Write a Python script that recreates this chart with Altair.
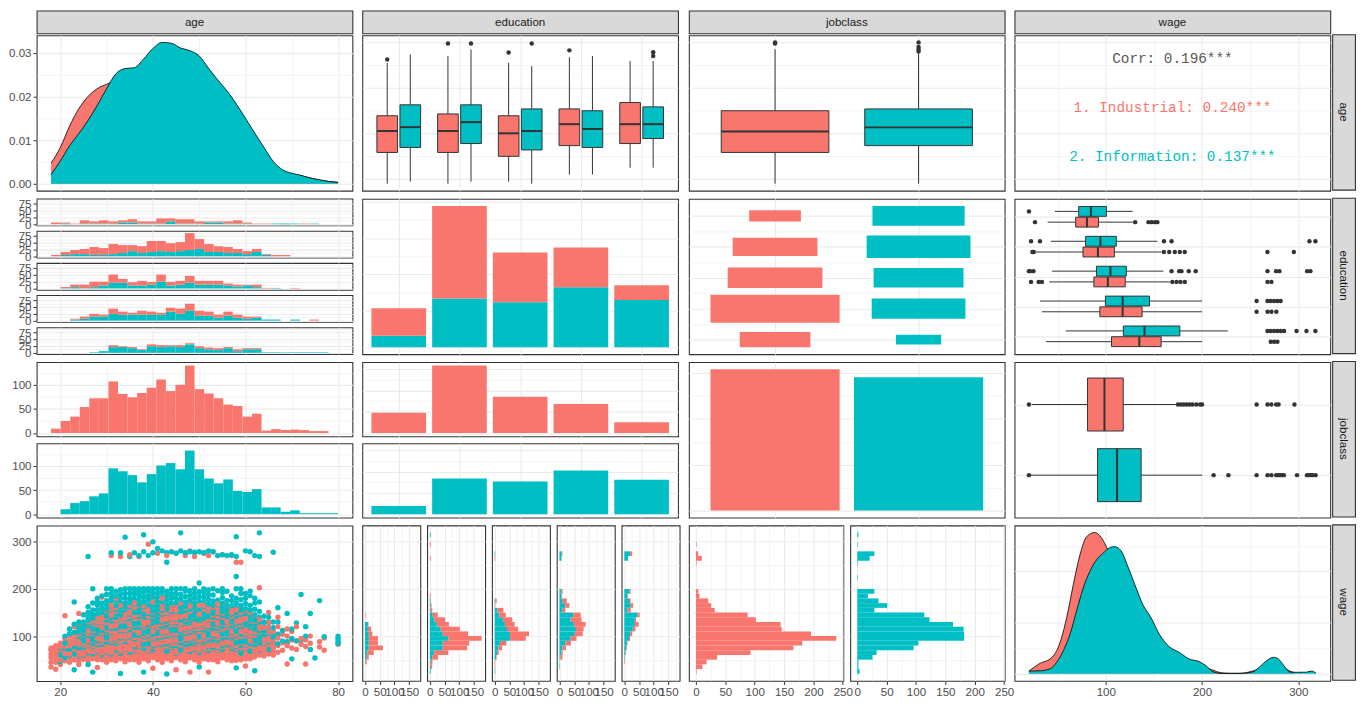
import altair as alt
import pandas as pd

RED = "#F8766D"
TEAL = "#00BFC4"
INK = "#333333"
GRID = "#EBEBEB"
FONT = "Liberation Sans"

CLASSES = ["1. Industrial", "2. Information"]
EDUCATION = ["1. < HS Grad", "2. HS Grad", "3. Some College", "4. College Grad", "5. Advanced Degree"]

# workers per education level, by job class
EDU_IND = [190, 636, 342, 274, 102]
EDU_INF = [78, 335, 308, 411, 324]
JOB_TOTAL = [1544, 1456]

# age density (diagonal), ages 18..80 step 2
DENS_AGES = list(range(18, 81, 2))
DENS_AGE_IND = [0.0047, 0.0083, 0.0132, 0.0172, 0.0200, 0.0218, 0.0228, 0.0236, 0.0240, 0.0250,
                0.0262, 0.0275, 0.0280, 0.0282, 0.0285, 0.0282, 0.0262, 0.0237, 0.0212, 0.0187,
                0.0160, 0.0130, 0.0098, 0.0066, 0.0040, 0.0028, 0.0022, 0.0018, 0.0013, 0.0008,
                0.0005, 0.0003]
DENS_AGE_INF = [0.0021, 0.0052, 0.0087, 0.0115, 0.0145, 0.0180, 0.0218, 0.0252, 0.0264, 0.0266,
                0.0286, 0.0310, 0.0324, 0.0322, 0.0311, 0.0305, 0.0293, 0.0265, 0.0238, 0.0213,
                0.0183, 0.0150, 0.0116, 0.0083, 0.0051, 0.0032, 0.0024, 0.0019, 0.0013, 0.0009,
                0.0005, 0.0003]

# wage density (diagonal)
DENS_WAGE_IND_X = [20.1, 23.2, 31.8, 42.1, 49.0, 54.1, 59.3, 66.2, 73.1, 80.0, 88.5, 97.1, 102.3,
                   110, 120, 130, 140, 150, 160, 170, 180, 190, 200, 210, 220, 230, 240, 250,
                   260, 270, 278, 285, 296]
DENS_WAGE_IND = [0.00026, 0.00048, 0.00103, 0.00145, 0.00226, 0.00355, 0.00548, 0.0087, 0.0116,
                 0.01338, 0.0138, 0.01305, 0.01209, 0.0110, 0.0090, 0.0070, 0.0053, 0.0038, 0.0027,
                 0.0019, 0.0014, 0.0010, 0.0007, 0.0004, 0.0001, 0.00005, 0.00005, 0.0002, 0.0005,
                 0.0010, 0.0012, 0.0006, 0.0001]
DENS_WAGE_INF_X = [20.1, 31.8, 42.1, 49.0, 55.9, 62.8, 69.6, 76.5, 83.4, 90.3, 97.1, 104.0, 109.2,
                   116.0, 122.9, 131.5, 138.4, 147.0, 155.6, 165.9, 176.2, 186.5, 196.8, 203.7,
                   212.3, 220.9, 238.1, 251.8, 260.4, 267.3, 274.2, 279.3, 286.2, 291.4, 300.0,
                   308.6, 313.7, 318.3]
DENS_WAGE_INF = [0.00026, 0.00029, 0.00048, 0.00113, 0.00226, 0.00387, 0.00613, 0.00838, 0.0100,
                 0.01112, 0.01177, 0.01232, 0.01242, 0.01199, 0.01048, 0.00838, 0.00677, 0.00548,
                 0.00387, 0.00265, 0.0021, 0.00145, 0.0012, 0.00081, 0.00016, 0.00003, 0.00003,
                 0.00016, 0.00072, 0.0013, 0.00161, 0.00145, 0.00065, 0.00016, 0.00014, 0.00016,
                 0.00026, 0.00007]

# age histograms: 30 bins from 18 to 80
AGE_BINS = (18, 80, 30)
AGE_HIST_IND = [9, 25, 34, 54, 72, 72, 107, 81, 74, 83, 94, 111, 87, 100, 140, 91, 82, 72, 59, 56,
                34, 40, 5, 8, 6, 7, 6, 4, 4, 0]
AGE_HIST_INF = [0, 10, 23, 27, 37, 43, 95, 89, 81, 66, 83, 101, 106, 93, 132, 93, 74, 64, 72, 48,
                46, 52, 14, 14, 5, 8, 2, 2, 2, 2]
AGE_HIST_EDU_IND = [
    [6, 4, 2, 12, 8, 12, 8, 8, 12, 8, 8, 19, 11, 16, 16, 8, 4, 4, 8, 12, 4, 2, 2, 0, 0, 0, 2, 0, 0, 0],
    [5, 11, 15, 19, 29, 25, 37, 29, 22, 25, 40, 37, 32, 33, 62, 36, 29, 21, 22, 15, 11, 11, 3, 5, 5, 0, 0, 0, 0, 0],
    [0, 4, 9, 13, 20, 14, 30, 14, 12, 17, 10, 26, 13, 14, 25, 14, 14, 14, 7, 7, 3, 9, 2, 0, 0, 2, 0, 0, 0, 0],
    [0, 0, 3, 8, 10, 7, 19, 11, 7, 14, 11, 7, 14, 19, 26, 18, 15, 11, 15, 11, 8, 4, 0, 0, 0, 0, 0, 4, 0, 0],
    [0, 0, 0, 0, 0, 0, 7, 3, 4, 3, 7, 7, 4, 7, 4, 7, 6, 7, 4, 7, 4, 4, 0, 0, 0, 0, 0, 0, 0, 0],
]
AGE_HIST_EDU_INF = [
    [0, 2, 0, 2, 2, 2, 2, 6, 6, 2, 2, 2, 10, 2, 2, 2, 6, 6, 2, 2, 2, 0, 0, 2, 2, 2, 0, 2, 0, 0],
    [0, 5, 8, 8, 5, 5, 8, 12, 19, 12, 16, 19, 16, 19, 23, 27, 16, 16, 12, 12, 8, 16, 5, 0, 0, 0, 0, 0, 0, 0],
    [0, 1, 5, 1, 5, 11, 21, 21, 11, 11, 14, 25, 11, 14, 21, 14, 14, 14, 11, 7, 11, 5, 0, 2, 0, 0, 0, 0, 0, 0],
    [0, 0, 4, 7, 15, 15, 25, 22, 22, 22, 22, 22, 33, 25, 36, 18, 18, 11, 18, 11, 7, 11, 4, 4, 0, 4, 0, 0, 0, 0],
    [0, 0, 0, 0, 2, 6, 21, 21, 17, 10, 24, 21, 24, 21, 31, 17, 13, 10, 17, 6, 13, 13, 2, 2, 2, 2, 2, 2, 2, 0],
]

# wage histograms: 30 bins from 20.09 to 318.34
WAGE_BINS = (20.09, 318.34, 30)
WAGE_HIST_IND = [1, 11, 18, 36, 93, 166, 181, 239, 196, 146, 144, 102, 88, 32, 26, 21, 6, 4, 0, 0,
                 0, 0, 0, 1, 10, 4, 0, 1, 0, 0]
WAGE_HIST_INF = [4, 2, 2, 26, 33, 96, 104, 182, 182, 181, 163, 123, 114, 29, 51, 36, 18, 29, 0, 0,
                 1, 0, 0, 1, 21, 29, 0, 1, 0, 2]
WAGE_HIST_EDU_IND = [
    [0, 0, 4, 7, 22, 48, 31, 31, 12, 11, 2, 0, 2, 0, 0, 0, 0, 0, 0, 0, 0, 0, 0, 0, 0, 0, 0, 0, 0, 0],
    [0, 5, 6, 20, 48, 83, 90, 113, 86, 65, 41, 37, 17, 5, 3, 0, 3, 0, 0, 0, 0, 0, 0, 0, 3, 0, 0, 3, 0, 0],
    [0, 2, 2, 2, 6, 12, 22, 54, 65, 38, 33, 32, 22, 21, 1, 5, 0, 0, 0, 0, 0, 0, 0, 0, 2, 0, 0, 0, 0, 0],
    [0, 0, 0, 7, 4, 11, 19, 20, 27, 26, 40, 37, 25, 9, 14, 14, 2, 4, 0, 0, 0, 0, 0, 0, 0, 2, 0, 0, 0, 0],
    [0, 0, 2, 0, 2, 2, 2, 4, 7, 9, 13, 4, 7, 11, 8, 6, 2, 4, 0, 0, 0, 0, 0, 0, 0, 7, 0, 0, 0, 0],
]
WAGE_HIST_EDU_INF = [
    [0, 0, 2, 6, 8, 13, 13, 13, 13, 10, 10, 0, 0, 0, 0, 0, 0, 0, 0, 0, 0, 0, 0, 0, 0, 0, 0, 0, 0, 0],
    [3, 3, 3, 8, 15, 44, 44, 63, 44, 37, 24, 15, 10, 3, 3, 3, 0, 0, 0, 0, 0, 0, 0, 0, 0, 0, 0, 0, 0, 3],
    [2, 0, 0, 5, 8, 13, 18, 52, 52, 42, 35, 28, 16, 9, 1, 2, 0, 0, 0, 0, 0, 0, 0, 0, 0, 2, 0, 0, 0, 0],
    [0, 2, 1, 3, 7, 11, 20, 38, 52, 56, 49, 38, 47, 11, 20, 11, 7, 7, 0, 0, 0, 0, 0, 0, 7, 8, 0, 0, 0, 0],
    [0, 0, 0, 2, 4, 7, 9, 16, 20, 29, 36, 36, 45, 11, 22, 16, 11, 18, 0, 0, 0, 0, 0, 0, 13, 20, 0, 0, 0, 0],
]

# boxplot statistics: (lower whisker, Q1, median, Q3, upper whisker, outliers)
AGE_BOX_EDU_IND = [(18, 31.7, 41.1, 47.8, 71.0, [72.5]), (18, 31.7, 41.1, 48.6, 74.0, [79.5]),
                   (18.9, 30.0, 40.1, 47.8, 71.0, [75.6]), (22, 34.7, 44.1, 50.8, 73.5, [76.5]),
                   (25, 35.6, 44.1, 53.6, 71.8, [])]
AGE_BOX_EDU_INF = [(18.9, 33.9, 42.8, 52.6, 74.7, []), (18.9, 35.6, 45.0, 52.6, 76.9, [79.5]),
                   (18, 32.8, 41.1, 50.8, 69.6, [79.5]), (22, 33.9, 42.0, 50.0, 74.0, []),
                   (25, 37.8, 44.1, 51.7, 71.8, [74, 75.7])]
AGE_BOX_JOB = [(18, 31.7, 40.9, 50.0, 77, [79.5, 80]), (18, 34.7, 42.7, 50.8, 75, [76, 77, 78, 80])]
WAGE_BOX_EDU_IND = [
    (39.5, 68.7, 80.4, 92.4, 128.0, [26.4, 130.5, 144.3, 147.7, 151.1, 153.6]),
    (27.4, 76.3, 91.8, 108.9, 158.0, [23.7, 25.1, 160.4, 165.9, 171.7, 176.9, 182.0, 268.0, 295.4]),
    (41.3, 87.6, 102.1, 120.2, 166.6, [22.3, 30.2, 33.6, 169.1, 173.5, 177.6, 182.1, 268.0, 272.1]),
    (33.6, 93.8, 117.5, 137.7, 200.0, [256.7, 268.0, 272.1, 277.2]),
    (37.9, 105.9, 134.8, 157.5, 200.0, [271.4, 274.9, 278.3]),
]
WAGE_BOX_EDU_INF = [
    (47.0, 71.8, 84.5, 100.6, 127.8, [20.1]),
    (42.9, 79.0, 94.4, 110.9, 153.6, [22.3, 31.6, 160.4, 168.3, 311.6, 317.8]),
    (44.0, 90.3, 104.8, 121.3, 159.8, [20.1, 21.4, 24.8, 168.3, 176.2, 178.6, 186.2, 193.4, 268.0,
                                       276.9, 280.4, 309.2, 312.6]),
    (31.6, 99.6, 117.5, 145.4, 200.0, [256.7, 268.0, 271.4, 274.9, 278.3, 281.7]),
    (58.4, 118.2, 140.2, 176.9, 226.8, [268.0, 271.4, 274.9, 278.3, 281.7, 285.2, 298.2, 308.5, 317.8]),
]
WAGE_BOX_JOB = [
    (23.0, 81.0, 98.6, 118.1, 173.5, [20.1, 175, 178, 181, 184, 187, 190, 194, 198, 200, 256.7,
                                      268, 272, 277, 279.5, 296]),
    (21.0, 91.4, 111.7, 136.7, 200.0, [20.1, 212, 227.4, 256.7, 268, 272, 277, 279, 281, 283, 285,
                                       298.7, 309, 311, 313, 315, 318]),
]

# scatter of wage against age: age -> wages
SCATTER_IND = {
    18: [35, 45, 55, 62, 70, 75], 19: [30, 45, 52, 60, 68, 75, 80], 20: [40, 50, 58, 65, 72, 78, 85],
    21: [48, 55, 63, 70, 78, 88, 95, 143], 22: [45, 55, 62, 70, 80, 90, 100],
    23: [50, 60, 68, 75, 85, 95, 105, 120], 24: [40, 55, 65, 72, 82, 92, 104, 115, 128, 148],
    25: [55, 62, 70, 80, 90, 98, 110, 125], 26: [48, 58, 68, 76, 85, 95, 105, 118, 130],
    27: [52, 62, 72, 80, 90, 100, 112, 125, 140], 28: [34, 55, 65, 75, 85, 95, 105, 118, 130, 145],
    29: [50, 60, 70, 82, 92, 102, 112, 124, 136, 150, 182],
    30: [45, 58, 68, 78, 88, 98, 108, 118, 128, 140, 155],
    31: [55, 65, 75, 85, 95, 105, 115, 125, 138, 150, 165, 270],
    32: [48, 60, 70, 80, 90, 100, 110, 122, 134, 146, 160, 180],
    33: [52, 62, 74, 84, 94, 104, 114, 126, 138, 152, 268],
    34: [46, 58, 68, 78, 88, 98, 108, 120, 132, 145, 160],
    35: [55, 66, 76, 86, 96, 106, 118, 130, 142, 156, 175, 272],
    36: [50, 62, 72, 82, 92, 102, 112, 124, 136, 150, 170],
    37: [45, 58, 70, 80, 90, 100, 112, 124, 138, 155, 268],
    38: [52, 64, 74, 86, 96, 106, 118, 130, 145, 165],
    39: [48, 60, 72, 82, 94, 104, 116, 128, 142, 160, 294],
    40: [32, 55, 66, 78, 88, 98, 110, 122, 135, 150, 172],
    41: [50, 62, 74, 84, 96, 106, 118, 130, 146, 162, 275],
    42: [45, 58, 70, 80, 92, 102, 114, 126, 140, 158, 180],
    43: [52, 64, 76, 88, 98, 110, 122, 136, 150, 270],
    44: [48, 60, 72, 84, 94, 106, 118, 130, 145, 165, 185],
    45: [29, 55, 66, 78, 90, 100, 112, 124, 138, 155, 275],
    46: [50, 62, 74, 86, 96, 108, 120, 134, 148, 170],
    47: [46, 58, 70, 82, 94, 104, 116, 128, 142, 160, 270],
    48: [24, 54, 66, 78, 90, 100, 112, 124, 138, 152, 175, 280],
    49: [50, 62, 74, 86, 98, 110, 122, 136, 150, 268],
    50: [45, 58, 70, 82, 92, 104, 116, 130, 146, 165],
    51: [52, 64, 76, 88, 100, 112, 124, 138, 155, 275],
    52: [24, 56, 68, 80, 92, 104, 116, 128, 142, 160, 270],
    53: [50, 62, 74, 86, 98, 110, 122, 136, 152, 278],
    54: [46, 60, 72, 84, 96, 108, 120, 134, 150, 168],
    55: [54, 66, 78, 90, 102, 114, 126, 140, 158, 272],
    56: [50, 62, 74, 86, 98, 110, 124, 138, 155],
    57: [48, 60, 72, 84, 96, 108, 120, 135, 150, 270],
    58: [55, 68, 80, 92, 104, 116, 130, 148, 256], 59: [50, 62, 74, 86, 98, 110, 124, 140, 160, 256],
    60: [37, 58, 70, 82, 94, 106, 120, 136, 155], 61: [52, 66, 78, 90, 102, 116, 132, 150],
    62: [56, 70, 82, 94, 108, 122, 140], 63: [60, 72, 86, 100, 116, 135, 202],
    64: [58, 72, 86, 100, 118], 65: [62, 76, 90, 108, 130, 150], 66: [60, 74, 90, 110],
    67: [66, 80, 96, 120, 140], 68: [70, 86, 104], 69: [41, 80, 85, 100, 115], 70: [75, 92, 110],
    71: [72, 90, 120], 72: [83, 95], 73: [41, 78, 92], 74: [85, 100], 76: [77, 88], 77: [70, 96],
    80: [83],
}
SCATTER_IND_MORE = {
    24: [47, 60, 69, 87, 98], 25: [51, 66, 75, 85, 94, 104, 117], 26: [53, 63, 72, 81, 90, 100, 111, 124],
    27: [57, 67, 76, 85, 95, 106, 118, 132], 28: [50, 60, 70, 80, 90, 100, 111, 124, 137],
    29: [55, 65, 76, 87, 97, 107, 118, 130, 143], 30: [52, 63, 73, 83, 93, 103, 113, 123, 134, 147],
    31: [50, 60, 70, 80, 90, 100, 110, 120, 131, 144, 158], 32: [54, 65, 75, 85, 95, 105, 116, 128, 140, 153],
    33: [57, 68, 79, 89, 99, 109, 120, 132, 145, 165], 34: [52, 63, 73, 83, 93, 103, 114, 126, 138, 152],
    35: [50, 60, 71, 81, 91, 101, 112, 124, 136, 149, 165], 36: [56, 67, 77, 87, 97, 107, 118, 130, 143, 160],
    37: [52, 64, 75, 85, 95, 106, 118, 131, 146, 165], 38: [58, 69, 80, 91, 101, 112, 124, 137, 155],
    39: [54, 66, 77, 88, 99, 110, 122, 135, 151], 40: [60, 72, 83, 93, 104, 116, 128, 142, 160],
    41: [56, 68, 79, 90, 101, 112, 124, 138, 154], 42: [52, 64, 75, 86, 97, 108, 120, 133, 149, 168],
    43: [58, 70, 82, 93, 104, 116, 129, 143, 160], 44: [54, 66, 78, 89, 100, 112, 124, 137, 155],
    45: [60, 72, 84, 95, 106, 118, 131, 146, 165], 46: [56, 68, 80, 91, 102, 114, 127, 141, 159],
    47: [52, 64, 76, 88, 99, 110, 122, 135, 151], 48: [60, 72, 84, 95, 106, 118, 131, 145, 163],
    49: [56, 68, 80, 92, 104, 116, 129, 143, 160], 50: [52, 64, 76, 87, 98, 110, 123, 138, 155],
    51: [58, 70, 82, 94, 106, 118, 131, 146, 165], 52: [50, 62, 74, 86, 98, 110, 122, 135, 151],
    53: [56, 68, 80, 92, 104, 116, 129, 144, 162], 54: [53, 66, 78, 90, 102, 114, 127, 142, 159],
    55: [60, 72, 84, 96, 108, 120, 133, 149], 56: [56, 68, 80, 92, 104, 117, 131, 146, 165],
    57: [54, 66, 78, 90, 102, 114, 127, 142, 160], 58: [49, 62, 74, 86, 98, 110, 123, 139, 156],
    59: [56, 68, 80, 92, 104, 117, 132, 150], 60: [52, 64, 76, 88, 100, 113, 128, 145],
    61: [58, 72, 84, 96, 109, 124, 141], 62: [63, 76, 88, 101, 115, 131], 63: [66, 79, 93, 108, 125],
    64: [65, 79, 93, 109], 65: [69, 83, 99, 119], 66: [67, 82, 100],
}
SCATTER_INF = {
    20: [46, 60, 75], 21: [55, 70, 85, 100], 22: [60, 72, 88, 105, 115],
    23: [29, 62, 78, 92, 108, 125, 172], 24: [58, 72, 86, 100, 115, 130],
    25: [60, 75, 90, 105, 120, 130], 26: [40, 65, 80, 95, 110, 125, 140, 162, 268],
    27: [24, 62, 78, 92, 108, 122, 138, 155, 200], 28: [68, 82, 98, 112, 128, 145, 165, 180],
    29: [60, 75, 90, 105, 120, 135, 150, 170], 30: [66, 80, 96, 110, 126, 142, 158, 175, 200],
    31: [62, 78, 94, 108, 124, 140, 156, 172, 190, 276],
    32: [70, 85, 100, 116, 132, 148, 165, 185],
    33: [21, 64, 80, 96, 112, 128, 145, 162, 180, 198, 276],
    34: [72, 88, 104, 120, 136, 152, 170, 190, 309],
    35: [66, 82, 98, 114, 130, 146, 162, 180, 200, 268],
    36: [70, 86, 102, 118, 134, 150, 168, 188, 200, 276],
    37: [62, 78, 94, 110, 126, 142, 158, 176, 195, 270],
    38: [24, 74, 90, 106, 122, 138, 154, 172, 192, 314, 278],
    39: [68, 84, 100, 116, 132, 148, 166, 185, 200, 270],
    40: [72, 88, 104, 120, 136, 152, 170, 190, 299, 276],
    41: [66, 82, 98, 114, 130, 146, 164, 182, 200, 285],
    42: [74, 90, 106, 122, 138, 154, 172, 192, 280],
    43: [20, 68, 84, 100, 116, 132, 148, 166, 186, 256, 276],
    44: [72, 88, 104, 120, 136, 152, 170, 190, 200, 278],
    45: [64, 80, 96, 112, 128, 144, 162, 180, 275],
    46: [70, 86, 102, 118, 134, 150, 168, 188, 318, 280],
    47: [74, 90, 106, 122, 138, 154, 172, 195, 276],
    48: [68, 84, 100, 116, 132, 148, 166, 186, 278],
    49: [72, 88, 104, 120, 136, 152, 170, 190, 277],
    50: [35, 66, 82, 98, 114, 130, 146, 164, 184, 212, 278],
    51: [74, 90, 106, 122, 138, 154, 172, 192, 276],
    52: [70, 86, 102, 118, 134, 150, 168, 188, 280],
    53: [76, 92, 108, 124, 140, 156, 174, 200, 278],
    54: [68, 84, 100, 116, 132, 148, 166, 270],
    55: [72, 88, 104, 120, 136, 152, 170, 192, 272],
    56: [66, 82, 98, 114, 130, 146, 165, 270],
    57: [74, 90, 106, 122, 138, 155, 175, 272],
    58: [33, 70, 86, 102, 118, 134, 150, 170, 226, 310, 268],
    59: [64, 80, 96, 112, 128, 146, 165, 190], 60: [72, 88, 104, 120, 138, 158, 180, 280],
    61: [68, 84, 100, 116, 134, 155, 195, 278], 62: [27, 74, 90, 106, 124, 145, 170, 270],
    63: [70, 86, 102, 120, 140, 172, 318, 268], 64: [76, 92, 110, 130], 65: [72, 88, 106, 128],
    66: [80, 98, 118, 277], 67: [84, 104, 130, 160], 68: [90, 112], 69: [88, 148],
    70: [52, 95, 115], 71: [90, 128], 72: [92, 188], 73: [100, 120], 74: [72, 148], 75: [54],
    76: [175], 77: [99], 80: [85, 90, 95, 100],
}
SCATTER_INF_MORE = {
    24: [79, 93, 108, 122], 25: [83, 98, 112, 125, 145], 26: [72, 88, 102, 118, 133, 150],
    27: [85, 100, 115, 130, 146, 170], 28: [75, 90, 105, 120, 136, 155, 172],
    29: [83, 98, 112, 128, 142, 160, 185], 30: [88, 103, 118, 134, 150, 166, 188],
    31: [86, 101, 116, 132, 148, 164, 181, 200], 32: [78, 93, 108, 124, 140, 157, 175, 195],
    33: [88, 104, 120, 136, 153, 171, 189], 34: [80, 96, 112, 128, 144, 161, 180, 200],
    35: [90, 106, 122, 138, 154, 171, 190], 36: [78, 94, 110, 126, 142, 159, 178, 195],
    37: [86, 102, 118, 134, 150, 167, 186, 200], 38: [82, 98, 114, 130, 146, 163, 182, 200],
    39: [76, 92, 108, 124, 140, 157, 176, 195], 40: [80, 96, 112, 128, 144, 161, 180, 200],
    41: [90, 106, 122, 138, 155, 173, 191], 42: [82, 98, 114, 130, 146, 163, 182, 200],
    43: [92, 108, 124, 140, 157, 176, 195], 44: [80, 96, 112, 128, 144, 161, 180],
    45: [88, 104, 120, 136, 153, 171, 190, 200], 46: [78, 94, 110, 126, 142, 159, 178, 200],
    47: [82, 98, 114, 130, 146, 163, 183, 200], 48: [92, 108, 124, 140, 157, 176, 196],
    49: [80, 96, 112, 128, 144, 161, 180, 200], 50: [90, 106, 122, 138, 155, 174, 194],
    51: [82, 98, 114, 130, 146, 163, 182, 200], 52: [78, 94, 110, 126, 142, 159, 178, 198],
    53: [84, 100, 116, 132, 148, 165, 187], 54: [76, 92, 108, 124, 140, 157, 176, 196],
    55: [80, 96, 112, 128, 144, 161, 181, 200], 56: [90, 106, 122, 138, 155, 175, 195],
    57: [82, 98, 114, 130, 146, 164, 185], 58: [78, 94, 110, 126, 142, 160, 180, 200],
    59: [88, 104, 120, 137, 155, 177, 200], 60: [80, 96, 112, 129, 148, 169, 190],
    61: [92, 108, 125, 144, 165, 185], 62: [82, 98, 115, 134, 157, 180], 63: [94, 111, 130, 152],
    64: [84, 101, 120, 142], 65: [97, 117, 140], 66: [89, 108, 130],
}

CORR_LINES = ["Corr: 0.196***", "1. Industrial: 0.240***", "2. Information: 0.137***"]
CORR_COLORS = ["#595959", RED, TEAL]

# ---------------- layout ----------------
W, H, GAP, STRIP = 319, 157, 7, 23
AGE_DOM = [14.9, 83.1]
WAGE_DOM = [5.18, 333.25]
AGE_GRID, AGE_MAJOR = [20, 30, 40, 50, 60, 70, 80], [20, 40, 60, 80]
WAGE_GRID, WAGE_MAJOR = [50, 100, 150, 200, 250, 300], [100, 200, 300]

COLOR = alt.Color("cls:N", scale=alt.Scale(domain=CLASSES, range=[RED, TEAL]), legend=None)


def axis(grid, major, show=False, fmt=None):
    test = "indexof([%s], datum.value) >= 0" % ",".join(str(v) for v in major)
    kw = dict(values=grid, title=None, domain=False, grid=True, gridColor=GRID,
              gridWidth={"condition": {"test": test, "value": 1.1}, "value": 0.55},
              labelOverlap=False, labelFlush=False)
    if show:
        kw["labelExpr"] = "%s ? datum.label : ''" % test
        kw["tickOpacity"] = {"condition": {"test": test, "value": 1}, "value": 0}
        if fmt:
            kw["format"] = fmt
    else:
        kw["labels"] = False
        kw["ticks"] = False
    return alt.Axis(**kw)


def sc(dom, rev=False):
    if rev:
        return alt.Scale(domain=dom, nice=False, zero=False, reverse=True)
    return alt.Scale(domain=dom, nice=False, zero=False)


def X(f, s, a):
    return alt.X(f, type="quantitative", scale=s, axis=a)


def Y(f, s, a):
    return alt.Y(f, type="quantitative", scale=s, axis=a)


def edges(lo, hi, n):
    return [lo + i * (hi - lo) / n for i in range(n + 1)]


def stack_frame(ind, inf, lows, highs):
    rows = []
    for i, (a, b) in enumerate(zip(ind, inf)):
        if b:
            rows.append(dict(lo=lows[i], hi=highs[i], b0=0, b1=b, cls=CLASSES[1]))
        if a:
            rows.append(dict(lo=lows[i], hi=highs[i], b0=b, b1=a + b, cls=CLASSES[0]))
    return pd.DataFrame(rows)


def rects(df, xs, xa, ys, ya, w, h, horizontal=False):
    if horizontal:
        enc = dict(y=Y("lo", ys, ya), y2="hi", x=X("b0", xs, xa), x2="b1")
    else:
        enc = dict(x=X("lo", xs, xa), x2="hi", y=Y("b0", ys, ya), y2="b1")
    return alt.Chart(df).mark_rect().encode(color=COLOR, **enc).properties(width=w, height=h)


def box_panel(keys, stats, half, vertical, cs, ca, vs, va, w, h):
    srows, orows = [], []
    for (pos, cls), (lo, q1, med, q3, hi, outs) in zip(keys, stats):
        srows.append(dict(pos=pos, p0=pos - half, p1=pos + half, lo=lo, q1=q1, med=med,
                          q3=q3, hi=hi, cls=cls))
        for o in outs:
            orows.append(dict(pos=pos, val=o))
    st, ou = pd.DataFrame(srows), pd.DataFrame(orows)
    c, v = ("x", "y") if vertical else ("y", "x")
    C = X if vertical else Y
    V = Y if vertical else X
    base = alt.Chart(st)
    w_lo = base.mark_rule(color=INK, strokeWidth=1).encode(
        **{c: C("pos", cs, ca), v: V("lo", vs, va), v + "2": "q1"})
    w_hi = base.mark_rule(color=INK, strokeWidth=1).encode(
        **{c: C("pos", cs, ca), v: V("q3", vs, va), v + "2": "hi"})
    box = base.mark_rect(stroke=INK, strokeWidth=1).encode(
        **{c: C("p0", cs, ca), c + "2": "p1", v: V("q1", vs, va), v + "2": "q3", "color": COLOR})
    med = base.mark_rule(color=INK, strokeWidth=2).encode(
        **{c: C("p0", cs, ca), c + "2": "p1", v: V("med", vs, va)})
    pts = alt.Chart(ou).mark_circle(color=INK, size=20, opacity=1).encode(
        **{c: C("pos", cs, ca), v: V("val", vs, va)})
    return alt.layer(w_lo, w_hi, box, med, pts).properties(width=w, height=h)


def density_panel(xs_ind, d_ind, xs_inf, d_inf, xsc, xax, ysc, yax, w, h):
    layers = []
    for xv, dv, col in ((xs_ind, d_ind, RED), (xs_inf, d_inf, TEAL)):
        df = pd.DataFrame({"v": xv, "d": dv})
        b = alt.Chart(df)
        layers.append(b.mark_area(color=col, interpolate="monotone", opacity=1).encode(
            x=X("v", xsc, xax), y=Y("d", ysc, yax), y2=alt.datum(0)))
        layers.append(b.mark_line(color="black", strokeWidth=0.8, interpolate="monotone").encode(
            x=X("v", xsc, xax), y=Y("d", ysc, yax)))
    return alt.layer(*layers).properties(width=w, height=h)


def strip(label, w, h, vertical=False):
    df = pd.DataFrame({"t": [label]})
    return (alt.Chart(df)
            .mark_text(font=FONT, fontSize=11.7, color="#1A1A1A", angle=90 if vertical else 0,
                       baseline="middle", align="center")
            .encode(text="t:N", x=alt.value(w / 2), y=alt.value(h / 2))
            .properties(width=w, height=h,
                        view=alt.ViewBackground(fill="#D9D9D9", stroke=INK, strokeWidth=1.1)))


def blank(w, h):
    df = pd.DataFrame({"t": [" "]})
    return (alt.Chart(df).mark_text(fontSize=1, baseline="middle")
            .encode(text="t:N", x=alt.value(w / 2), y=alt.value(h / 2))
            .properties(width=w, height=h, view=alt.ViewBackground(strokeWidth=0)))


age_e = edges(*AGE_BINS)
wage_e = edges(*WAGE_BINS)
zeros = [0] * 30

age_s, wage_s = sc(AGE_DOM), sc(WAGE_DOM)
age_ax, wage_ax = axis(AGE_GRID, AGE_MAJOR), axis(WAGE_GRID, WAGE_MAJOR)
age_ax_lab = axis(AGE_GRID, AGE_MAJOR, show=True)
wage_ax_lab = axis(WAGE_GRID, WAGE_MAJOR, show=True)
edu_s, edu_ax = sc([0.4, 5.6]), axis([1, 2, 3, 4, 5], [1, 2, 3, 4, 5])
job_s, job_ax = sc([0.4, 2.6]), axis([1, 2], [1, 2])

# ---- row 1 ----
p11 = density_panel(DENS_AGES, DENS_AGE_IND, DENS_AGES, DENS_AGE_INF, age_s, age_ax,
                    sc([-0.00162, 0.03402]),
                    axis([0, 0.005, 0.01, 0.015, 0.02, 0.025, 0.03], [0, 0.01, 0.02, 0.03],
                         show=True, fmt=".2f"), W, H)

keys, stats = [], []
for i in range(5):
    keys += [(i + 1 - 0.19, CLASSES[0]), (i + 1 + 0.19, CLASSES[1])]
    stats += [AGE_BOX_EDU_IND[i], AGE_BOX_EDU_INF[i]]
p12 = box_panel(keys, stats, 0.17, True, edu_s, edu_ax, age_s, age_ax, W, H)

p13 = box_panel([(1, CLASSES[0]), (2, CLASSES[1])], AGE_BOX_JOB, 0.375, True,
                job_s, job_ax, age_s, age_ax, W, H)

corr_df = pd.DataFrame({"label": CORR_LINES, "c": CORR_COLORS,
                        "x": [sum(WAGE_DOM) / 2] * 3,
                        "y": [AGE_DOM[0] + f * (AGE_DOM[1] - AGE_DOM[0]) for f in (0.848, 0.535, 0.217)]})
p14 = (alt.Chart(corr_df).mark_text(font="Liberation Mono", fontSize=14.5, baseline="middle")
       .encode(x=X("x", wage_s, wage_ax), y=Y("y", age_s, age_ax), text="label:N",
               color=alt.Color("c:N", scale=None))
       .properties(width=W, height=H))

# ---- row 2 ----
sub_h, sub_gap = 27, 5.5
cnt_s = sc([-4.45, 93.45])
cnt_ax = axis([0, 12.5, 25, 37.5, 50, 62.5, 75, 87.5], [0, 25, 50, 75], show=True)
p21 = alt.vconcat(*[
    rects(stack_frame(AGE_HIST_EDU_IND[i], AGE_HIST_EDU_INF[i], age_e[:-1], age_e[1:]),
          age_s, age_ax, cnt_s, cnt_ax, W, sub_h)
    for i in range(5)], spacing=sub_gap, bounds="flush")

lows = [i + 1 - 0.45 for i in range(5)]
highs = [i + 1 + 0.45 for i in range(5)]
p22 = rects(stack_frame(EDU_IND, EDU_INF, lows, highs), edu_s, edu_ax, sc([-48.55, 1019.55]),
            axis(list(range(0, 1001, 125)), [0, 250, 500, 750, 1000]), W, H)

fl = []
big = max(EDU_IND + EDU_INF)
for j, counts in enumerate((EDU_IND, EDU_INF)):
    for i, n in enumerate(counts):
        r = 0.45 * (n / big) ** 0.5
        fl.append(dict(x0=j + 1 - r, x1=j + 1 + r, y0=i + 1 - r, y1=i + 1 + r, cls=CLASSES[j]))
p23 = (alt.Chart(pd.DataFrame(fl)).mark_rect()
       .encode(x=X("x0", job_s, job_ax), x2="x1",
               y=Y("y0", sc([0.53, 5.55]), axis([1, 1.5, 2, 2.5, 3, 3.5, 4, 4.5, 5, 5.5], [1, 2, 3, 4, 5])),
               y2="y1", color=COLOR)
       .properties(width=W, height=H))

keys, stats = [], []
for i in range(5):
    keys += [(i + 1 + 0.18, CLASSES[0]), (i + 1 - 0.18, CLASSES[1])]
    stats += [WAGE_BOX_EDU_IND[i], WAGE_BOX_EDU_INF[i]]
p24 = box_panel(keys, stats, 0.165, False, sc([0.4, 5.6], rev=True), edu_ax,
                wage_s, wage_ax, W, H)

# ---- row 3 ----
half_h = (H - GAP) / 2
c3_s = sc([-7, 147])
c3_ax = axis([0, 25, 50, 75, 100, 125], [0, 50, 100], show=True)
p31 = alt.vconcat(
    rects(stack_frame(AGE_HIST_IND, zeros, age_e[:-1], age_e[1:]), age_s, age_ax, c3_s, c3_ax, W, half_h),
    rects(stack_frame(zeros, AGE_HIST_INF, age_e[:-1], age_e[1:]), age_s, age_ax, c3_s, c3_ax, W, half_h),
    spacing=GAP, bounds="flush")

e3_s = sc([-31.8, 667.8])
e3_ax = axis([0, 100, 200, 300, 400, 500, 600], [0, 200, 400, 600])
p32 = alt.vconcat(
    rects(stack_frame(EDU_IND, [0] * 5, lows, highs), edu_s, edu_ax, e3_s, e3_ax, W, half_h),
    rects(stack_frame([0] * 5, EDU_INF, lows, highs), edu_s, edu_ax, e3_s, e3_ax, W, half_h),
    spacing=GAP, bounds="flush")

p33 = rects(stack_frame([JOB_TOTAL[0], 0], [0, JOB_TOTAL[1]], [0.55, 1.55], [1.45, 2.45]),
            job_s, job_ax, sc([-77.2, 1621.2]),
            axis([0, 250, 500, 750, 1000, 1250, 1500], [0, 500, 1000, 1500]), W, H)

p34 = box_panel([(1, CLASSES[0]), (2, CLASSES[1])], WAGE_BOX_JOB, 0.375, False,
                sc([0.4, 2.6], rev=True), job_ax, wage_s, wage_ax, W, H)

# ---- row 4 ----
scat = []
for age in sorted(set(SCATTER_IND) | set(SCATTER_INF)):
    for w in SCATTER_IND.get(age, []) + SCATTER_IND_MORE.get(age, []):
        scat.append(dict(age=age, wage=w, cls=CLASSES[0]))
    for w in SCATTER_INF.get(age, []) + SCATTER_INF_MORE.get(age, []):
        scat.append(dict(age=age, wage=w, cls=CLASSES[1]))
# the rows of the data come in no particular order, so neither class is always drawn on top
scat.sort(key=lambda r: (r["age"] * 7919 + r["wage"] * 104729 + len(r["cls"]) * 31) % 997)
p41 = (alt.Chart(pd.DataFrame(scat)).mark_circle(size=30, opacity=1)
       .encode(x=X("age", age_s, age_ax_lab), y=Y("wage", wage_s, wage_ax_lab), color=COLOR)
       .properties(width=W, height=H))

sub_w, sub_wgap = 58.6, 6.5
h2_s = sc([-8.95, 187.95])
h2_ax = axis([0, 25, 50, 75, 100, 125, 150, 175], [0, 50, 100, 150], show=True)
p42 = alt.hconcat(*[
    rects(stack_frame(WAGE_HIST_EDU_IND[i], WAGE_HIST_EDU_INF[i], wage_e[:-1], wage_e[1:]),
          h2_s, h2_ax, wage_s, wage_ax, sub_w, H, horizontal=True)
    for i in range(5)], spacing=sub_wgap, bounds="flush")

half_w = (W - GAP) / 2
h3_s = sc([-11.95, 250.95])
h3_ax = axis(list(range(0, 251, 25)), [0, 50, 100, 150, 200, 250], show=True)
p43 = alt.hconcat(
    rects(stack_frame(WAGE_HIST_IND, zeros, wage_e[:-1], wage_e[1:]), h3_s, h3_ax, wage_s, wage_ax,
          half_w, H, horizontal=True),
    rects(stack_frame(zeros, WAGE_HIST_INF, wage_e[:-1], wage_e[1:]), h3_s, h3_ax, wage_s, wage_ax,
          half_w, H, horizontal=True),
    spacing=GAP, bounds="flush")

p44 = density_panel(DENS_WAGE_IND_X, DENS_WAGE_IND, DENS_WAGE_INF_X, DENS_WAGE_INF,
                    wage_s, wage_ax_lab, sc([-0.00069, 0.01449]),
                    axis([0, 0.0025, 0.005, 0.0075, 0.01, 0.0125], [0, 0.005, 0.01]), W, H)


def column(top, panels, gaps):
    # gaps allow for tick labels and borders that hang over the edge of a stacked group
    g = alt.vconcat(top, panels[0], spacing=0)
    for p, s in zip(panels[1:], gaps):
        g = alt.vconcat(g, p, spacing=s)
    return g


ROW_GAP = GAP - 0.8
col1 = column(strip("age", W, STRIP), [p11, p21, p31, p41], [3.0, 0.2, 2.4])
col2 = column(strip("education", W, STRIP), [p12, p22, p32, p42], [ROW_GAP] * 3)
col3 = column(strip("jobclass", W, STRIP), [p13, p23, p33, p43], [ROW_GAP] * 3)
col4 = column(strip("wage", W, STRIP), [p14, p24, p34, p44], [ROW_GAP] * 3)
right = column(blank(STRIP, STRIP), [strip(t, STRIP, H, True) for t in
                                     ["age", "education", "jobclass", "wage"]], [ROW_GAP] * 3)

left3 = alt.hconcat(alt.hconcat(col1, col2, spacing=GAP), col3, spacing=GAP)
chart = (alt.hconcat(left3, alt.hconcat(col4, right, spacing=0), spacing=GAP - 9.15)
         .properties(padding={"left": 0, "top": -2, "right": 2, "bottom": 2})
         .configure_view(stroke=INK, strokeWidth=1.1)
         .configure_axis(labelFont=FONT, labelFontSize=11.7, labelColor="#4D4D4D",
                         tickColor=INK, tickSize=3.7, tickWidth=1, labelPadding=2))

chart.save("out.html", embed_options={"renderer": "svg", "actions": False})
